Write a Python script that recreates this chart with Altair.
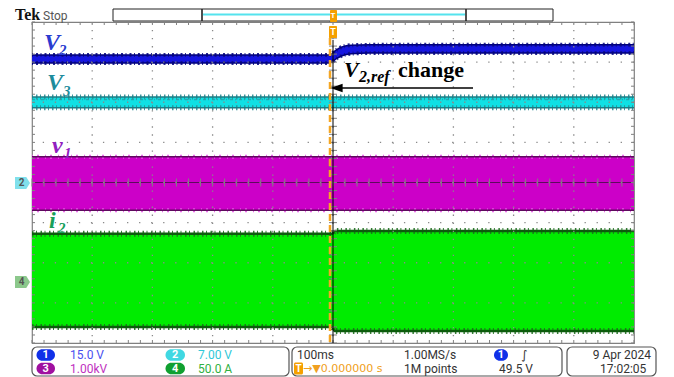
import altair as alt
import numpy as np
import pandas as pd

# ---------------- data read from the screen capture ----------------
# time in ms (100 ms/div, trigger at 0), amplitude in screen divisions
v2_t     = [-500, -5, 5, 15, 30, 60, 500]
v2_upper = [3.18, 3.18, 3.30, 3.38, 3.42, 3.43, 3.43]
v2_lower = [2.98, 2.98, 3.08, 3.16, 3.21, 3.23, 3.23]

v3_t     = [-500, 500]
v3_upper = [2.13, 2.13]
v3_lower = [1.86, 1.86]

v1_t     = [-500, 500]
v1_upper = [0.64, 0.64]
v1_lower = [-0.69, -0.69]

i2_t     = [-500, -2, 3, 500]
i2_upper = [-1.28, -1.28, -1.21, -1.21]
i2_lower = [-3.60, -3.60, -3.70, -3.70]

ch_numbers = ["1", "2", "3", "4"]
ch_scales  = ["15.0 V", "7.00 V", "1.00kV", "50.0 A"]
timebase   = "100ms"
sample_rate = "1.00MS/s"
record_len = "1M points"
trig_pos   = "\u2192\u25bc0.000000 s"
trig_level = "49.5 V"
date_str   = "9 Apr  2024"
time_str   = "17:02:05"

# ---------------- layout helpers (screen pixels -> data units) ----------------
W, H = 602, 321
def tx(px):
    return (px - 333.0) / 0.602

def ty(py):
    return (182.5 - py) / 40.125

XS = alt.Scale(domain=[-500, 500], nice=False, zero=False)
YS = alt.Scale(domain=[-4, 4], nice=False, zero=False)

def X(f):
    return alt.X(f, type="quantitative", scale=XS, axis=None)

def Y(f):
    return alt.Y(f, type="quantitative", scale=YS, axis=None)

layers = []

def band(t, up, lo, fill, edge, ew, fuzz_w, fuzz_dash, fuzz_col):
    df = pd.DataFrame({"t": t, "u": up, "l": lo})
    out = [alt.Chart(df).mark_area(color=fill, opacity=1, interpolate="monotone").encode(
        x=X("t"), y=Y("u"), y2=alt.Y2("l"))]
    for f in ["u", "l"]:
        out.append(alt.Chart(df).mark_line(color=fuzz_col, strokeWidth=fuzz_w, strokeDash=fuzz_dash,
                                           interpolate="monotone", opacity=0.9).encode(x=X("t"), y=Y(f)))
        out.append(alt.Chart(df).mark_line(color=edge, strokeWidth=ew, interpolate="monotone").encode(
            x=X("t"), y=Y(f)))
    return out

def rect(x0, x1, y0, y1, **kw):
    df = pd.DataFrame({"x0": [x0], "x1": [x1], "y0": [y0], "y1": [y1]})
    return alt.Chart(df).mark_rect(**kw).encode(
        x=X("x0"), x2=alt.X2("x1"), y=Y("y0"), y2=alt.Y2("y1"))

def seg(x0, x1, y0, y1, **kw):
    df = pd.DataFrame({"x0": [x0], "x1": [x1], "y0": [y0], "y1": [y1]})
    return alt.Chart(df).mark_rule(**kw).encode(
        x=X("x0"), x2=alt.X2("x1"), y=Y("y0"), y2=alt.Y2("y1"))

def txt(s, px, py, **kw):
    df = pd.DataFrame({"x": [tx(px)], "y": [ty(py)], "s": [s]})
    return alt.Chart(df).mark_text(**kw).encode(x=X("x"), y=Y("y"), text="s:N")

# ---------------- traces ----------------
layers += band(i2_t, i2_upper, i2_lower, "#00ec00", "#0c5c0c", 2.5, 6, [1.5, 2.5, 1, 3.5], "#1f6f1f")
layers += band(v1_t, v1_upper, v1_lower, "#cc00c8", "#5e0a5e", 1.5, 4, [1, 4, 2, 6], "#e85ae8")
layers += band(v3_t, v3_upper, v3_lower, "#10e0e4", "#1c7c84", 1.5, 5, [1, 3, 1.5, 2.5], "#2a8e96")
layers.append(seg(-500, 500, 2.07, 2.07, color="#2a9aa2", strokeWidth=1.5, strokeDash=[3, 2, 1, 3], opacity=0.8))
layers += band(v2_t, v2_upper, v2_lower, "#1616e0", "#00007a", 1.5, 4, [1, 3, 2, 2.5], "#10108a")
# v1 zero-level line
layers.append(seg(-500, 500, 0, 0, color="#5e0a5e", strokeWidth=1))

# ---------------- graticule ----------------
grid_h = pd.DataFrame({"y": [-3, -2, -1, 0, 1, 2, 3]})
grid_v = pd.DataFrame({"x": [-400, -300, -200, -100, 0, 100, 200, 300, 400]})
layers.append(alt.Chart(grid_h).mark_rule(color="#8a8a8a", strokeWidth=1.3, strokeDash=[1.3, 10.74]).encode(y=Y("y")))
layers.append(alt.Chart(grid_v).mark_rule(color="#8a8a8a", strokeWidth=1.3, strokeDash=[1.3, 6.725]).encode(x=X("x")))

minor_t = np.arange(-500, 501, 20)
minor_y = np.round(np.arange(-4, 4.001, 0.2), 3)
tk = 3 / 40.125
tkx = 3 / 0.602
edge_x = pd.DataFrame({"x": np.concatenate([minor_t, minor_t, minor_t]),
                       "y0": np.concatenate([np.full(len(minor_t), 4.0), np.full(len(minor_t), -4.0), np.full(len(minor_t), -0.1)]),
                       "y1": np.concatenate([np.full(len(minor_t), 4.0 - tk), np.full(len(minor_t), -4.0 + tk), np.full(len(minor_t), 0.1)])})
edge_y = pd.DataFrame({"y": np.concatenate([minor_y, minor_y, minor_y]),
                       "x0": np.concatenate([np.full(len(minor_y), -500.0), np.full(len(minor_y), 500.0), np.full(len(minor_y), -6.6)]),
                       "x1": np.concatenate([np.full(len(minor_y), -500.0 + tkx), np.full(len(minor_y), 500.0 - tkx), np.full(len(minor_y), 6.6)])})
layers.append(alt.Chart(edge_x).mark_rule(color="#808080", strokeWidth=1).encode(x=X("x"), y=Y("y0"), y2=alt.Y2("y1")))
layers.append(alt.Chart(edge_y).mark_rule(color="#808080", strokeWidth=1).encode(y=Y("y"), x=X("x0"), x2=alt.X2("x1")))

# center / trigger lines
layers.append(seg(0, 0, ty(40), -4, color="#000000", strokeWidth=1))
layers.append(seg(tx(330), tx(330), ty(38), -4, color="#f5a623", strokeWidth=2.5, strokeDash=[7, 4]))

# ---------------- trace labels ----------------
serif = "Liberation Serif"
def lab(s, px, py, color, size, **kw):
    return txt(s, px, py, font=serif, fontSize=size, fontStyle="italic", fontWeight="bold",
               color=color, align="left", baseline="alphabetic", **kw)

layers += [lab("V", 44, 50, "#2a3cd0", 24), lab("2", 59, 55, "#2a3cd0", 15)]
layers += [lab("V", 47, 90, "#1d8c9c", 24), lab("3", 63, 96, "#1d8c9c", 15)]
layers += [lab("v", 52, 153, "#9020c0", 24), lab("1", 64, 158, "#9020c0", 15)]
layers += [lab("i", 49, 228, "#18a05a", 24), lab("2", 58, 233, "#18a05a", 15)]

# annotation
layers.append(txt("V", 344, 77, font=serif, fontSize=22, fontStyle="italic", fontWeight="bold",
                  color="#000000", align="left", baseline="alphabetic"))
layers.append(txt("2,ref", 359, 82, font=serif, fontSize=16, fontStyle="italic", fontWeight="bold",
                  color="#000000", align="left", baseline="alphabetic"))
layers.append(txt("change", 398, 77, font=serif, fontSize=22, fontWeight="bold",
                  color="#000000", align="left", baseline="alphabetic"))
layers.append(seg(tx(340), tx(473), ty(88), ty(88), color="#000000", strokeWidth=1.6))
arrow_df = pd.DataFrame({"x": [tx(336.5)], "y": [ty(88)]})
layers.append(alt.Chart(arrow_df).mark_point(shape="M-1,0 L1,-0.7 L1,0.7 Z", size=150, filled=True,
                                              color="#000000", opacity=1).encode(x=X("x"), y=Y("y")))

# ---------------- top strip ----------------
layers.append(txt("Tek", 15, 20, font=serif, fontSize=16, fontWeight="bold", color="#111111",
                  align="left", baseline="alphabetic"))
layers.append(txt("Stop", 43, 20, font="Roboto", fontSize=12, color="#555555",
                  align="left", baseline="alphabetic"))
layers.append(rect(tx(113), tx(553), ty(9), ty(21), fill="#ffffff", stroke="#222222", strokeWidth=1))
layers.append(seg(tx(203), tx(465), ty(14.5), ty(14.5), color="#55e3ee", strokeWidth=2))
layers.append(seg(tx(202), tx(202), ty(9), ty(21), color="#222222", strokeWidth=1.6))
layers.append(seg(tx(466), tx(466), ty(9), ty(21), color="#222222", strokeWidth=1.6))
layers.append(rect(tx(330), tx(337), ty(10), ty(22), fill="#f5a000", cornerRadius=1))
layers.append(rect(tx(329), tx(337), ty(26), ty(38), fill="#f5a000", cornerRadius=1))
layers.append(txt("T", 333, 16, font="Roboto", fontSize=8, fontWeight="bold", color="#ffffff", align="center", baseline="middle"))
layers.append(txt("T", 333, 32, font="Roboto", fontSize=9, fontWeight="bold", color="#ffffff", align="center", baseline="middle"))

# ---------------- left channel tags ----------------
tag_shape = "M-1,-0.8 L0.5,-0.8 L1,0 L0.5,0.8 L-1,0.8 Z"
tags = pd.DataFrame({"x": [tx(22.5), tx(22.5)], "y": [ty(183), ty(282)],
                     "c": ["#80e0ec", "#8cc88c"], "s": ["2", "4"]})
layers.append(alt.Chart(tags).mark_point(shape=tag_shape, size=225, filled=True, opacity=1).encode(
    x=X("x"), y=Y("y"), color=alt.Color("c:N", scale=None)))
layers.append(alt.Chart(tags).mark_text(font="Roboto", fontSize=10, fontWeight="bold", color="#555555",
                                        dx=-1).encode(x=X("x"), y=Y("y"), text="s:N"))

# ---------------- bottom status panel ----------------
by0, by1 = ty(347), ty(376)
for (a, b) in [(32, 289), (292, 562), (567, 656)]:
    layers.append(rect(tx(a), tx(b), by0, by1, fill="#ffffff", stroke="#555555", strokeWidth=1.2, cornerRadius=5))

r1, r2 = 355, 368.5
badge_fill = ["#1030e8", "#40d8e2", "#a010a0", "#10a030"]
text_col   = ["#4a50f0", "#30c8d8", "#c030c0", "#30b040"]
bx = [(36.5, 55, 70), (165.5, 185, 198), (36.5, 55, 70), (165.5, 185, 198)]
by = [r1, r1, r2, r2]
for k in range(4):
    x0, x1, xt = bx[k]
    layers.append(rect(tx(x0), tx(x1), ty(by[k] - 5.8), ty(by[k] + 5.8), fill=badge_fill[k], cornerRadius=5.8))
    layers.append(txt(ch_numbers[k], (x0 + x1) / 2, by[k], font="Roboto", fontSize=11, fontWeight="bold",
                      color="#ffffff", align="center", baseline="middle"))
    layers.append(txt(ch_scales[k], xt, by[k], font="Roboto", fontSize=12, color=text_col[k],
                      align="left", baseline="middle"))

layers.append(txt(timebase, 297, r1, font="Roboto", fontSize=12, color="#333333", align="left", baseline="middle"))
layers.append(txt(sample_rate, 404, r1, font="Roboto", fontSize=12, color="#333333", align="left", baseline="middle"))
layers.append(rect(tx(494), tx(508), ty(r1 - 5.8), ty(r1 + 5.8), fill="#1030e8", cornerRadius=5.8))
layers.append(txt("1", 501, r1, font="Roboto", fontSize=11, fontWeight="bold", color="#ffffff", align="center", baseline="middle"))
layers.append(txt("\u222b", 521, r1, font="DejaVu Sans", fontSize=12, color="#333333", align="left", baseline="middle"))
layers.append(rect(tx(294), tx(303), ty(r2 - 6), ty(r2 + 6), fill="#f5a000", cornerRadius=1.5))
layers.append(txt("T", 298.5, r2, font="Roboto", fontSize=10, fontWeight="bold", color="#ffffff", align="center", baseline="middle"))
layers.append(txt(trig_pos, 303, r2, font="DejaVu Sans", fontSize=11, color="#f0a020", align="left", baseline="middle"))
layers.append(txt(record_len, 404, r2, font="Roboto", fontSize=12, color="#333333", align="left", baseline="middle"))
layers.append(txt(trig_level, 499, r2, font="Roboto", fontSize=12, color="#333333", align="left", baseline="middle"))
layers.append(txt(date_str, 651, r1, font="Roboto", fontSize=12, color="#333333", align="right", baseline="middle"))
layers.append(txt(time_str, 600, r2, font="Roboto", fontSize=12, color="#333333", align="left", baseline="middle"))

chart = alt.layer(*layers).properties(
    width=W, height=H,
    padding={"left": 32, "top": 22, "right": 40, "bottom": 34},
    autosize=alt.AutoSizeParams(type="none"),
    background="#ffffff",
).configure_view(stroke="#808080", strokeWidth=1.2)

chart.save("out.html", embed_options={"renderer": "svg", "actions": False})
